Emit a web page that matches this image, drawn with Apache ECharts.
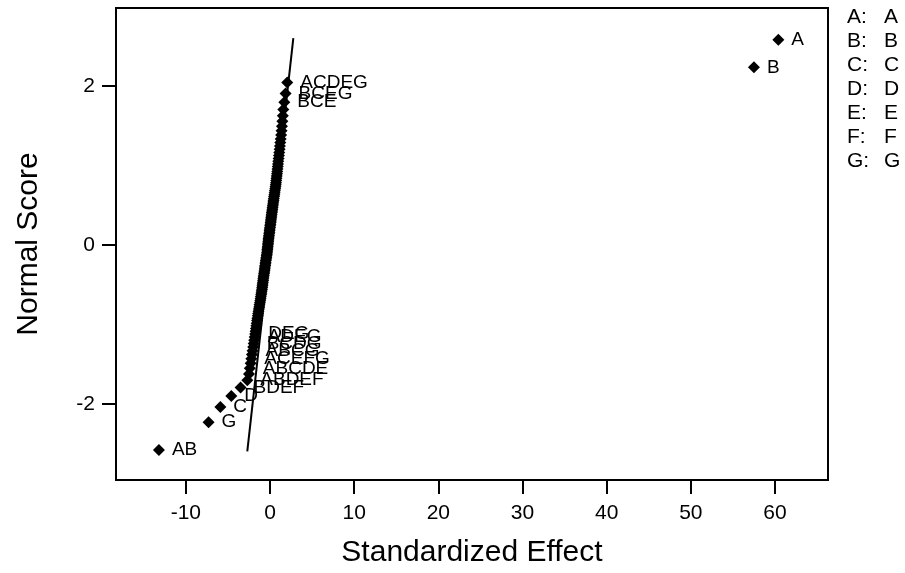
<!DOCTYPE html>
<html>
<head>
<meta charset="utf-8">
<script src="https://cdn.jsdelivr.net/npm/echarts@6/dist/echarts.min.js"></script>
<style>html,body{margin:0;padding:0;background:#fff;}#c{width:905px;height:573px;}</style>
</head>
<body>
<div id="c"></div>
<script>
// Standardized effects (sorted ascending)
const effects = [
  -13.2, -7.3, -5.9, -4.6, -3.5, -2.7, -2.5, -2.4, -2.3, -2.22,
  -2.15, -2.07, -2.0, -1.94, -1.88, -1.82, -1.76, -1.72, -1.67, -1.62,
  -1.58, -1.54, -1.5, -1.45, -1.41, -1.37, -1.32, -1.28, -1.25, -1.2,
  -1.16, -1.12, -1.09, -1.05, -1.02, -0.99, -0.95, -0.93, -0.9, -0.88,
  -0.85, -0.82, -0.8, -0.77, -0.74, -0.71, -0.68, -0.65, -0.62, -0.6,
  -0.57, -0.54, -0.52, -0.49, -0.46, -0.43, -0.4, -0.37, -0.35, -0.33,
  -0.31, -0.29, -0.27, -0.25, -0.23, -0.21, -0.19, -0.17, -0.14, -0.12,
  -0.1, -0.07, -0.05, -0.03, 0.0, 0.02, 0.05, 0.07, 0.1, 0.12,
  0.15, 0.17, 0.2, 0.22, 0.25, 0.28, 0.3, 0.33, 0.36, 0.39,
  0.42, 0.45, 0.48, 0.52, 0.55, 0.58, 0.62, 0.65, 0.68, 0.71,
  0.74, 0.77, 0.8, 0.83, 0.86, 0.89, 0.92, 0.95, 0.98, 1.02,
  1.06, 1.1, 1.14, 1.18, 1.22, 1.27, 1.32, 1.37, 1.42, 1.47,
  1.52, 1.58, 1.7, 1.85, 2.05, 57.5, 60.4
];
// Normal scores (y positions)
const normalScores = [
  -2.582, -2.233, -2.041, -1.903, -1.795, -1.704, -1.625, -1.555, -1.492, -1.435,
  -1.382, -1.332, -1.286, -1.243, -1.201, -1.161, -1.123, -1.087, -1.052, -1.018,
  -0.986, -0.954, -0.923, -0.894, -0.865, -0.836, -0.809, -0.782, -0.756, -0.730,
  -0.704, -0.679, -0.655, -0.630, -0.607, -0.583, -0.560, -0.537, -0.514, -0.492,
  -0.470, -0.448, -0.426, -0.405, -0.383, -0.362, -0.341, -0.321, -0.300, -0.280,
  -0.259, -0.239, -0.219, -0.199, -0.179, -0.159, -0.139, -0.118, -0.099, -0.079,
  -0.059, -0.039, -0.020, 0.000, 0.020, 0.039, 0.059, 0.079, 0.099, 0.118,
  0.139, 0.159, 0.179, 0.199, 0.219, 0.239, 0.259, 0.280, 0.300, 0.321,
  0.341, 0.362, 0.383, 0.405, 0.426, 0.448, 0.470, 0.492, 0.514, 0.537,
  0.560, 0.583, 0.607, 0.630, 0.655, 0.679, 0.704, 0.730, 0.756, 0.782,
  0.809, 0.836, 0.865, 0.894, 0.923, 0.954, 0.986, 1.018, 1.052, 1.087,
  1.123, 1.161, 1.201, 1.243, 1.286, 1.332, 1.382, 1.435, 1.492, 1.555,
  1.625, 1.704, 1.795, 1.903, 2.041, 2.233, 2.582
];
// Labelled effects: rank (1-based position in the arrays above) and term
const labeledRanks = [1, 2, 3, 4, 5, 6, 8, 10, 12, 14, 16, 17, 123, 124, 125, 126, 127];
const labeledTerms = ['AB', 'G', 'C', 'D', 'BDEF', 'ABDEF', 'ABCDE', 'ACEFG', 'ABCG', 'BCDG', 'ADEG', 'DEG', 'BCE', 'BCEG', 'ACDEG', 'B', 'A'];
// Fitted reference line end points
const lineX = [-2.7, 2.77];
const lineY = [-2.6, 2.6];
// Factor legend
const factorKeys = ['A', 'B', 'C', 'D', 'E', 'F', 'G'];
const factorNames = ['A', 'B', 'C', 'D', 'E', 'F', 'G'];
// Tick values
const xTicks = [-10, 0, 10, 20, 30, 40, 50, 60];
const yTicks = [-2, 0, 2];

const FONT = 'Liberation Sans';
const chart = echarts.init(document.getElementById('c'));

const labelMap = {};
labeledRanks.forEach((r, k) => { labelMap[r - 1] = labeledTerms[k]; });

const scatterData = effects.map((x, i) => {
  const d = { value: [x, normalScores[i]] };
  if (labelMap[i] !== undefined) {
    d.label = { show: true, formatter: labelMap[i] };
  }
  return d;
});

const graphics = [];
factorKeys.forEach((k, i) => {
  const y = 18 + i * 24;
  graphics.push({ type: 'text', left: 847, top: y - 11, style: { text: k + ':', font: '21px ' + FONT, fill: '#000' } });
  graphics.push({ type: 'text', left: 884, top: y - 11, style: { text: factorNames[i], font: '21px ' + FONT, fill: '#000' } });
});

chart.setOption({
  animation: false,
  backgroundColor: '#fff',
  grid: { left: 116, right: 77, top: 8, bottom: 93, show: true, borderColor: '#000', borderWidth: 2, backgroundColor: 'transparent' },
  xAxis: {
    type: 'value', min: -18.3, max: 66.3,
    splitLine: { show: false },
    axisLine: { show: true, onZero: false, lineStyle: { color: '#000', width: 2 } },
    axisTick: { show: true, length: 14, lineStyle: { color: '#000', width: 2 }, customValues: xTicks },
    axisLabel: { customValues: xTicks, fontSize: 21, color: '#000', fontFamily: FONT, margin: 23 },
    name: 'Standardized Effect', nameLocation: 'middle', nameGap: 58,
    nameTextStyle: { fontSize: 30, color: '#000', fontFamily: FONT }
  },
  yAxis: {
    type: 'value', min: -2.96, max: 2.98,
    splitLine: { show: false },
    axisLine: { show: true, onZero: false, lineStyle: { color: '#000', width: 2 } },
    axisTick: { show: true, length: 14, lineStyle: { color: '#000', width: 2 }, customValues: yTicks },
    axisLabel: { customValues: yTicks, fontSize: 21, color: '#000', fontFamily: FONT, margin: 21 },
    name: 'Normal Score', nameLocation: 'middle', nameGap: 72,
    nameTextStyle: { fontSize: 30, color: '#000', fontFamily: FONT }
  },
  graphic: graphics,
  series: [
    {
      type: 'line',
      data: lineX.map((x, i) => [x, lineY[i]]),
      showSymbol: false, symbol: 'none',
      lineStyle: { color: '#000', width: 2 },
      z: 3, silent: true
    },
    {
      type: 'scatter',
      data: scatterData,
      symbol: 'diamond', symbolSize: 12,
      itemStyle: { color: '#000', opacity: 1 },
      label: { show: false, position: 'right', distance: 7, fontSize: 19, color: '#000', fontFamily: FONT },
      z: 2
    }
  ]
});
</script>
</body>
</html>
